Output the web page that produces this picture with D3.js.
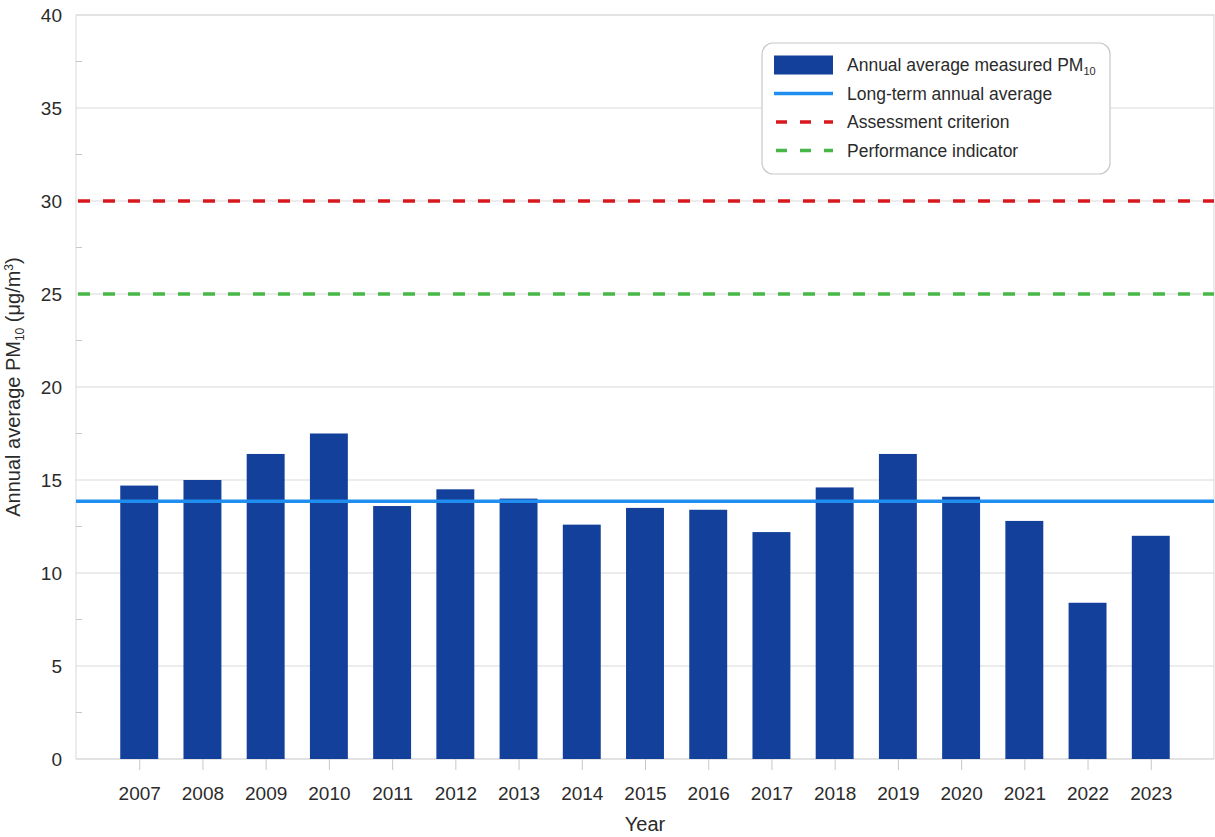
<!DOCTYPE html>
<html>
<head>
<meta charset="utf-8">
<script src="https://cdn.jsdelivr.net/npm/d3@7"></script>
<style>
  html, body { margin: 0; padding: 0; background: #fff; }
  svg { display: block; font-family: "Liberation Sans", Arial, sans-serif; }
</style>
</head>
<body>
<svg id="chart" width="1215" height="837"></svg>
<script>
const years = [2007, 2008, 2009, 2010, 2011, 2012, 2013, 2014, 2015, 2016, 2017, 2018, 2019, 2020, 2021, 2022, 2023];
const pm10 = [14.7, 15.0, 16.4, 17.5, 13.6, 14.5, 14.0, 12.6, 13.5, 13.4, 12.2, 14.6, 16.4, 14.1, 12.8, 8.4, 12.0];
const longTermAverage = 13.86;
const assessmentCriterion = 30;
const performanceIndicator = 25;
const yTicks = [0, 5, 10, 15, 20, 25, 30, 35, 40];
const yMinorTicks = [2.5, 7.5, 12.5, 17.5, 22.5, 27.5, 32.5, 37.5];

const svg = d3.select("#chart");
const margin = { left: 76, top: 15, right: 1, bottom: 78 };
const W = 1215, H = 837;
const x0 = margin.left, x1 = W - margin.right, y0 = H - margin.bottom, y1 = margin.top;

const x = d3.scaleLinear().domain([2006, 2024]).range([x0, x1]);
const y = d3.scaleLinear().domain([0, 40]).range([y0, y1]);
const step = x(2007) - x(2006);
const barW = step * 0.6;

const textColor = "#2b2b2b";
const gridColor = "#d9d9d9";
const FONT = "'Liberation Sans', Arial, sans-serif";

// gridlines
svg.append("g")
  .selectAll("line").data(yTicks).join("line")
  .attr("x1", x0).attr("x2", x1)
  .attr("y1", d => y(d)).attr("y2", d => y(d))
  .attr("stroke", gridColor).attr("stroke-width", 1);

// frame
svg.append("rect")
  .attr("x", x0).attr("y", y1).attr("width", x1 - x0).attr("height", y0 - y1)
  .attr("fill", "none").attr("stroke", gridColor).attr("stroke-width", 1);

// minor ticks on left
svg.append("g")
  .selectAll("line").data(yMinorTicks).join("line")
  .attr("x1", x0).attr("x2", x0 + 6)
  .attr("y1", d => y(d)).attr("y2", d => y(d))
  .attr("stroke", "#c8c8c8").attr("stroke-width", 1);

// y axis labels
const yAxis = d3.axisLeft(y).tickValues(yTicks).tickSize(0).tickPadding(14);
const gy = svg.append("g").attr("transform", `translate(${x0},0)`).call(yAxis);
gy.select(".domain").remove();
gy.selectAll("text").attr("font-size", 19).attr("fill", textColor).attr("font-family", FONT);

// x axis
const xAxis = d3.axisBottom(x).tickValues(years).tickFormat(d3.format("d")).tickSize(11).tickPadding(17);
const gx = svg.append("g").attr("transform", `translate(0,${y0})`).call(xAxis);
gx.select(".domain").remove();
gx.selectAll(".tick line").attr("stroke", "#c8c8c8");
gx.selectAll("text").attr("font-size", 19).attr("fill", textColor).attr("font-family", FONT);

// bars
svg.append("g")
  .selectAll("rect").data(years).join("rect")
  .attr("x", d => x(d) - barW / 2)
  .attr("width", barW)
  .attr("y", (d, i) => y(pm10[i]))
  .attr("height", (d, i) => y(0) - y(pm10[i]))
  .attr("fill", "#13409a");

// reference lines
svg.append("line")
  .attr("x1", x0).attr("x2", x1)
  .attr("y1", y(longTermAverage)).attr("y2", y(longTermAverage))
  .attr("stroke", "#1f8ef0").attr("stroke-width", 3.5);

svg.append("line")
  .attr("x1", x0).attr("x2", x1)
  .attr("y1", y(assessmentCriterion)).attr("y2", y(assessmentCriterion))
  .attr("stroke", "#d7191f").attr("stroke-width", 3.5)
  .attr("stroke-dasharray", "12,13").attr("stroke-dashoffset", -2);

svg.append("line")
  .attr("x1", x0).attr("x2", x1)
  .attr("y1", y(performanceIndicator)).attr("y2", y(performanceIndicator))
  .attr("stroke", "#47b847").attr("stroke-width", 3.5)
  .attr("stroke-dasharray", "12,13").attr("stroke-dashoffset", -2);

// axis titles
svg.append("text")
  .attr("x", 645).attr("y", 831)
  .attr("text-anchor", "middle").attr("font-size", 20).attr("fill", textColor)
  .text("Year");

const yt = svg.append("text")
  .attr("transform", `translate(20,${y(20)}) rotate(-90)`)
  .attr("text-anchor", "middle").attr("font-size", 20).attr("fill", textColor);
yt.append("tspan").text("Annual average PM");
yt.append("tspan").attr("font-size", 12).attr("dy", 4).text("10");
yt.append("tspan").attr("dy", -4).text(" (μg/m");
yt.append("tspan").attr("font-size", 12).attr("dy", -7).text("3");
yt.append("tspan").attr("dy", 7).text(")");

// legend
const lg = svg.append("g");
lg.append("rect")
  .attr("x", 762).attr("y", 43).attr("width", 348).attr("height", 131)
  .attr("rx", 11).attr("ry", 11)
  .attr("fill", "#fff").attr("stroke", "#c8c8c8").attr("stroke-width", 1.2);

const legendItems = [
  { label: "Annual average measured PM", sub: "10", type: "bar", color: "#13409a" },
  { label: "Long-term annual average", type: "line", color: "#1f8ef0" },
  { label: "Assessment criterion", type: "dash", color: "#d7191f" },
  { label: "Performance indicator", type: "dash", color: "#47b847" }
];
legendItems.forEach((it, i) => {
  const cy = 65 + i * 28.5;
  if (it.type === "bar") {
    lg.append("rect").attr("x", 774).attr("y", cy - 9.5).attr("width", 59).attr("height", 19).attr("fill", it.color);
  } else {
    const l = lg.append("line").attr("x1", 774).attr("x2", 833).attr("y1", cy).attr("y2", cy)
      .attr("stroke", it.color).attr("stroke-width", 3.5);
    if (it.type === "dash") l.attr("stroke-dasharray", "11,13").attr("stroke-dashoffset", -2);
  }
  const t = lg.append("text").attr("x", 847).attr("y", cy + 6).attr("font-size", 17.5).attr("fill", textColor).text(it.label);
  if (it.sub) t.append("tspan").attr("font-size", 11).attr("dy", 4).text(it.sub);
});
</script>
</body>
</html>
